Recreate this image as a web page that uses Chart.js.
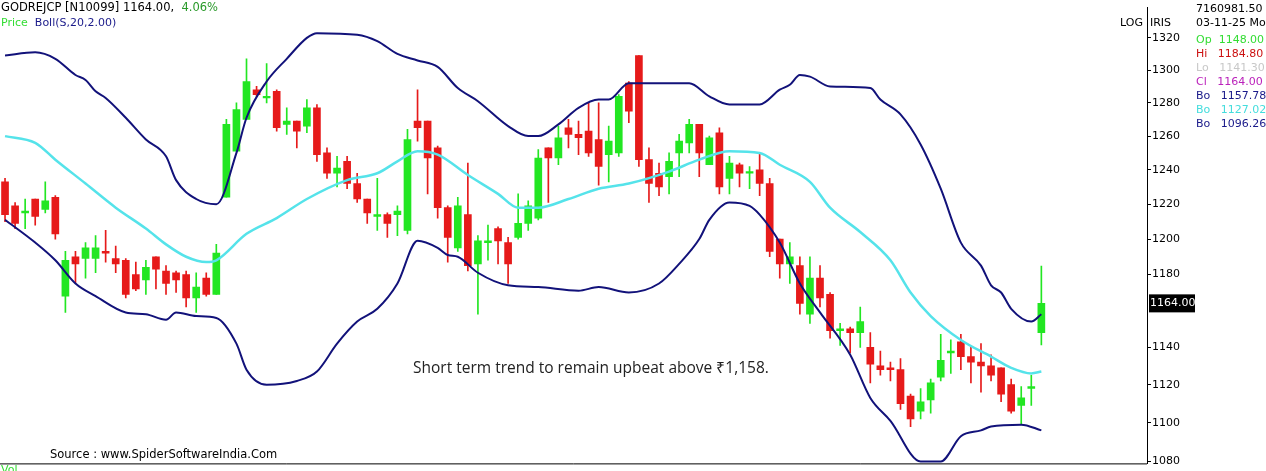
<!DOCTYPE html>
<html><head><meta charset="utf-8">
<script src="https://cdn.jsdelivr.net/npm/chart.js@4/dist/chart.umd.min.js"></script>
<style>
body{margin:0;background:#fff;overflow:hidden}
#wrap{position:relative;width:1266px;height:471px}
.t{position:absolute;font-family:"DejaVu Sans",sans-serif;font-size:11px;white-space:pre;line-height:13px}
</style></head><body>
<div id="wrap">
<canvas id="c" width="1266" height="471"></canvas>
<div class="t" style="left:1px;top:1px;color:#000;font-size:11.5px">GODREJCP [N10099] 1164.00,  <span style="color:#2a9a2a">4.06%</span></div>
<div class="t" style="left:1px;top:16px"><span style="color:#33dd33">Price</span>  <span style="color:#1a1a8a">Boll(S,20,2.00)</span></div>
<div class="t" style="left:1120px;top:16px;color:#000">LOG  IRIS</div>
<div class="t" style="left:1196px;top:2px;color:#000">7160981.50</div>
<div class="t" style="left:1196px;top:16px;color:#000">03-11-25 Mo</div>
<div class="t" style="left:1196px;top:33px;color:#33dd33">Op  1148.00</div>
<div class="t" style="left:1196px;top:47px;color:#cc1111">Hi   1184.80</div>
<div class="t" style="left:1196px;top:61px;color:#c8c8c8">Lo   1141.30</div>
<div class="t" style="left:1196px;top:75px;color:#bb22bb">Cl   1164.00</div>
<div class="t" style="left:1196px;top:89px;color:#1a1a8a">Bo   1157.78</div>
<div class="t" style="left:1196px;top:103px;color:#44dddd">Bo   1127.02</div>
<div class="t" style="left:1196px;top:117px;color:#1a1a8a">Bo   1096.26</div>
<div class="t" style="left:50px;top:448px;color:#000;font-size:11.5px">Source : www.SpiderSoftwareIndia.Com</div>
<div class="t" style="left:1px;top:463px;color:#33dd33">Vol</div>
<div class="t" style="left:413px;top:357px;color:#222;font-family:'Open Sans',sans-serif;font-size:15.5px;line-height:20px">Short term trend to remain upbeat above ₹1,158.</div>
</div>
<script>
const openP=[1233,1219,1215,1223,1217,1224,1168,1190,1189,1189,1193,1189,1188,1180,1177,1190,1182,1181,1180,1167,1178,1169,
1224,1251,1270,1288,1283,1287,1267,1269,1266,1277,1250,1238,1245,1232,1223,1213,1214,1214,1205,1269,1269,1253,
1218,1195,1214,1186,1198,1206,1198,1201,1209,1212,1253,1247,1265,1261,1263,1258,1249,1250,1292,1309,1246,1238,
1236,1250,1256,1267,1243,1262,1235,1243,1238,1240,1232,1200,1186,1185,1158,1178,1169,1149,1150,1148,1140,1130,1129,1128,1114,1106,1112,1124,1137,1143,1135,1132,1130,1129,1120,1109,1118,1148];
const closeP=[1214,1209,1216,1213,1222,1203,1188,1186,1195,1195,1192,1186,1169,1172,1184,1183,1175,1177,1167,1173,1169,1192,
1267,1276,1293,1285,1284,1265,1269,1263,1277,1249,1238,1241,1232,1223,1215,1214,1209,1216,1258,1265,1247,1218,
1201,1219,1185,1199,1199,1199,1186,1209,1219,1247,1247,1259,1261,1259,1250,1242,1257,1284,1275,1246,1232,1230,
1245,1257,1267,1250,1259,1230,1244,1238,1239,1232,1193,1186,1190,1164,1178,1167,1149,1150,1148,1154,1131,1128,1128,1110,1102,1111,1121,1133,1138,1135,1132,1130,1125,1115,1106,1113,1119,1164];
const highP=[1235,1221,1223,1223,1233,1225,1193,1193,1198,1202,1205,1196,1189,1187,1188,1190,1185,1182,1182,1181,1181,1197,
1270,1280,1307,1290,1304,1288,1277,1269,1282,1279,1253,1248,1248,1238,1223,1235,1215,1219,1264,1288,1269,1254,
1219,1224,1244,1202,1208,1207,1201,1226,1222,1252,1253,1266,1270,1269,1280,1280,1266,1285,1293,1309,1253,1244,
1250,1261,1270,1267,1260,1265,1248,1244,1242,1250,1235,1200,1198,1190,1190,1185,1170,1153,1151,1162,1148,1138,1132,1134,1115,1118,1123,1147,1144,1147,1140,1142,1136,1129,1123,1119,1125,1184.8];
const lowP=[1210,1206,1206,1208,1215,1200,1159,1175,1178,1181,1187,1181,1167,1171,1169,1172,1169,1170,1162,1159,1168,1169,
1224,1251,1270,1284,1280,1263,1261,1253,1262,1245,1235,1230,1229,1221,1209,1205,1201,1202,1203,1257,1226,1212,
1187,1193,1182,1158,1188,1186,1175,1200,1205,1211,1221,1243,1253,1249,1248,1231,1233,1248,1268,1242,1221,1225,
1226,1236,1250,1236,1243,1226,1226,1230,1229,1225,1190,1178,1175,1158,1153,1162,1145,1141,1137,1140,1121,1125,1122,1107,1098,1102,1105,1122,1126,1128,1121,1116,1122,1111,1105,1099,1109,1141.3];
const upperIdx=[0,3,5,7,8,9,10,12,14,16,17,19,21,23,24,26,28,30,31,35,37,39,41,43,45,47,50,52,53,55,57,59,60,62,65,68,70,72,75,77,78,79,80,82,86,87,89,91,93,95,97,98,99,100,102,103];
const upperVal=[1309,1311,1307,1297,1294,1287,1283,1271,1258,1248,1234,1223,1220,1250,1271,1293,1307,1320,1323,1322,1318,1310,1306,1302,1289,1281,1266,1260,1260,1267,1277,1282,1282,1292,1292,1292,1284,1279,1279,1288,1291,1297,1296,1290,1289,1282,1273,1255,1229,1198,1185,1174,1170,1161,1154,1158];
const midIdx=[0,3,5,8,11,14,16,18,20,21,24,27,30,34,37,39,41,43,46,49,51,53,56,59,62,66,69,72,75,77,80,82,85,88,90,92,95,98,100,102,103];
const midVal=[1260,1256,1246,1232,1218,1206,1197,1190,1187,1188,1203,1212,1223,1234,1238,1245,1251,1249,1237,1226,1218,1218,1223,1229,1232,1239,1246,1251,1250,1243,1233,1218,1204,1188,1170,1157,1144,1135,1129,1126,1127];
const lowerIdx=[0,3,5,7,9,12,14,16,17,19,21,23,24,26,29,31,33,35,37,39,41,43,44,45,47,50,53,57,59,62,65,67,69,70,72,74,75,77,79,81,84,86,88,91,93,95,97,98,101,103];
const lowerVal=[1211,1198,1188,1175,1168,1159,1158,1155,1159,1157,1156,1142,1128,1120,1122,1127,1142,1154,1161,1175,1199,1195,1191,1190,1181,1174,1173,1171,1173,1170,1175,1186,1200,1211,1221,1219,1214,1198,1175,1159,1136,1113,1101,1080,1080,1093,1096,1098,1099,1096];
const yTicks=[1080,1100,1120,1140,1180,1200,1220,1240,1260,1280,1300,1320];
const lastClose=1164.00;
const NCAT=114;

const labels=Array.from({length:NCAT},(_,i)=>String(i));
const up=i=>closeP[i]>=openP[i];
const GREEN='#22e622',RED='#e61a1a';
const cols=openP.map((o,i)=>up(i)?GREEN:RED);
const band=(idx,val)=>{const a=new Array(openP.length).fill(null);idx.forEach((k,j)=>a[k]=val[j]);return a;};
const wick=lowP.map((l,i)=>[l,highP[i]]);
const body=openP.map((o,i)=>{let a=Math.min(o,closeP[i]),b=Math.max(o,closeP[i]);if(b-a<0.6){a-=0.3;b+=0.3;}return [a,b];});
const lineDs=(d,c,w)=>({type:'line',data:d,borderColor:c,borderWidth:w,pointRadius:0,spanGaps:true,cubicInterpolationMode:'monotone',order:0});

const overlay={id:'ov',afterDraw(ch){
  const ctx=ch.ctx,a=ch.chartArea,ys=ch.scales.y;
  ctx.save();
  ctx.strokeStyle='#000';ctx.lineWidth=1;
  ctx.beginPath();ctx.moveTo(0,a.bottom+0.5);ctx.lineTo(a.right,a.bottom+0.5);ctx.stroke();
  const py=ys.getPixelForValue(lastClose);
  ctx.fillStyle='#000';ctx.fillRect(a.right+2,py-9,46,18);
  ctx.fillStyle='#fff';ctx.font='11px "DejaVu Sans"';ctx.textBaseline='middle';
  ctx.fillText(lastClose.toFixed(2),a.right+3,py);
  ctx.restore();
}};

new Chart(document.getElementById('c'),{
  type:'bar',
  data:{labels,datasets:[
    lineDs(band(upperIdx,upperVal),'#12127a',2),
    lineDs(band(midIdx,midVal),'#55e3ea',2.5),
    lineDs(band(lowerIdx,lowerVal),'#12127a',2),
    {data:wick,backgroundColor:cols,barThickness:1,grouped:false,order:2},
    {data:body,backgroundColor:cols,barThickness:7,grouped:false,order:1}
  ]},
  options:{responsive:false,animation:false,
    layout:{padding:{left:0,top:0,bottom:6,right:0}},
    plugins:{legend:{display:false},tooltip:{enabled:false}},
    scales:{
      x:{display:false,offset:true},
      y:{type:'logarithmic',position:'right',min:1079,max:1339.1,
        afterBuildTicks:s=>{s.ticks=yTicks.map(v=>({value:v}));},
        afterFit:s=>{s.width=119;},
        border:{display:true,color:'#000'},
        grid:{display:true,drawOnChartArea:false,drawTicks:true,tickLength:4,color:'#000'},
        ticks:{color:'#000',padding:1,font:{family:'DejaVu Sans',size:11},callback:v=>String(v)}
      }
    }
  },
  plugins:[overlay]
});
</script>
</body></html>
